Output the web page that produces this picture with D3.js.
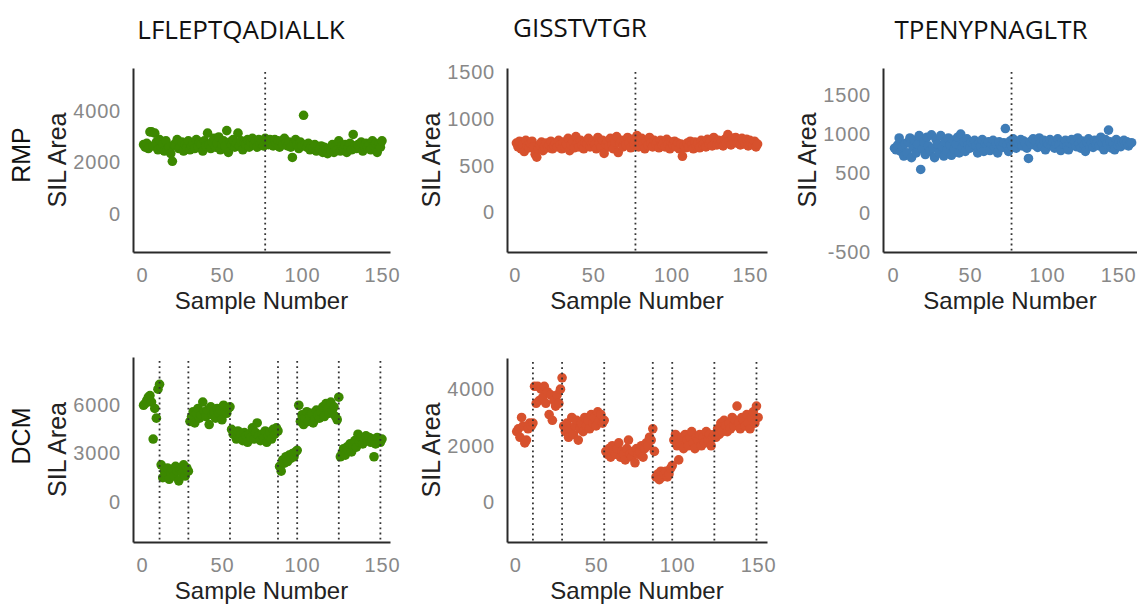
<!DOCTYPE html>
<html>
<head>
<meta charset="utf-8">
<script src="https://cdn.jsdelivr.net/npm/d3@7"></script>
<style>
  body { margin: 0; background: #fff; }
  svg { display: block; }
</style>
</head>
<body>
<svg id="chart" width="1137" height="604"></svg>
<script>
// column titles and row labels
const peptides = ["LFLEPTQADIALLK", "GISSTVTGR", "TPENYPNAGLTR"];
const methods = ["RMP", "DCM"];
const xTicks = [0, 50, 100, 150];

// batch boundaries (sample number)
const rmpBatchLines = [77];
const dcmBatchLines = [11, 29, 55, 85, 97, 123, 149];

// SIL area per sample, sample number = index + 1
const rmpLfleptqadiallk = [
  2700, 2600, 2750, 2550, 3200, 3200, 2650, 3150, 2800, 2500,
  2900, 2600, 2700, 2450, 2850, 2500, 2600, 2350, 2050, 2700,
  2650, 2900, 2550, 2600, 2800, 2450, 2700, 2600, 2850, 2500,
  2650, 2750, 2550, 2900, 2600, 2800, 2700, 2450, 2850, 2650,
  3150, 2700, 2550, 2800, 2950, 2600, 2750, 3000, 2500, 2700,
  2850, 2650, 3250, 2400, 2800, 2700, 2900, 2600, 2750, 3150,
  2650, 2850, 2500, 2800, 2700, 2900, 2600, 2800, 2950, 2700,
  2850, 2600, 2900, 2750, 2800, 2650, 2950, 2850, 2700, 2900,
  2800, 2650, 2900, 2750, 2850, 2600, 2800, 2700, 2950, 2750,
  2650, 2800, 2600, 2200, 2750, 2900, 2700, 2550, 2800, 2650,
  3850, 2700, 2600, 2750, 2500, 2650, 2550, 2700, 2450, 2600,
  2550, 2650, 2400, 2600, 2500, 2350, 2550, 2450, 2700, 2400,
  2600, 2500, 2850, 2450, 2650, 2550, 2700, 2400, 2600, 2750,
  2500, 3100, 2650, 2550, 2700, 2600, 2800, 2450, 2650, 2750,
  2600, 2700, 2500, 2850, 2650, 2750, 2400, 2700, 2600, 2850
];
const rmpGisstvtgr = [
  740, 700, 760, 680, 720, 650, 770, 710, 690, 740,
  760, 700, 620, 590, 680, 720, 750, 660, 700, 740,
  690, 720, 760, 680, 710, 740, 700, 770, 720, 680,
  750, 700, 730, 790, 660, 720, 760, 690, 810, 740,
  700, 770, 720, 680, 750, 730, 790, 700, 740, 760,
  720, 680, 800, 740, 700, 770, 630, 730, 760, 700,
  790, 720, 680, 750, 810, 640, 740, 770, 700, 760,
  720, 800, 740, 690, 780, 730, 760, 820, 700, 750,
  790, 730, 680, 760, 720, 800, 740, 700, 770, 730,
  750, 690, 770, 720, 740, 700, 780, 730, 680, 750,
  720, 760, 700, 740, 680, 730, 600, 710, 690, 740,
  700, 760, 720, 680, 750, 710, 740, 690, 770, 720,
  740, 700, 780, 730, 760, 710, 800, 740, 720, 770,
  730, 760, 710, 780, 740, 830, 760, 720, 790, 750,
  800, 740, 770, 720, 790, 760, 730, 780, 710, 770,
  740, 720, 760, 700, 730
];
const rmpTpenypnagltr = [
  820, 800, 860, 950, 780, 840, 720, 880, 760, 900,
  950, 700, 830, 920, 760, 870, 980, 550, 810, 900,
  740, 960, 850, 780, 990, 820, 700, 930, 870, 760,
  980, 840, 720, 900, 790, 950, 860, 730, 920, 810,
  870, 960, 760, 1000, 830, 900, 780, 940, 860, 820,
  900, 870, 920, 850, 760, 890, 840, 930, 780, 880,
  860, 900, 790, 870, 920, 840, 880, 760, 900, 850,
  830, 890, 1070, 860, 780, 910, 850, 940, 870, 820,
  900, 870, 930, 850, 910, 880, 820, 690, 900, 870,
  940, 860, 900, 830, 950, 880, 850, 920, 800, 890,
  870, 930, 850, 900, 820, 880, 940, 860, 790, 900,
  870, 920, 850, 800, 890, 930, 860, 900, 840, 950,
  880, 820, 910, 860, 780, 900, 940, 850, 890, 830,
  920, 870, 910, 850, 960, 880, 800, 930, 870, 1050,
  900, 820, 880, 800, 930, 860, 900, 840, 890, 920,
  870, 900, 850, 880, 890
];
const dcmLfleptqadiallk = [
  6000, 6100, 6300, 6500, 6600, 6200, 3900, 5800, 5200, 7000, 7300,
  2300, 1500, 1900, 1700, 2100, 1400, 1800, 2000, 1600, 2200, 1900, 1300, 2000, 1800, 2300, 1600, 2100, 1900,
  5000, 5300, 5600, 4900, 5500, 5800, 5200, 5400, 6200, 5600, 5300, 5700, 4800,
  5900, 5400, 5600, 5200, 5800, 5500, 5700, 5100, 6000, 5600, 5500, 5800, 5900,
  4500, 4200, 4300, 3900, 4400, 4000, 4200, 3800, 4300, 4100, 3700, 4200, 4000, 4600, 3900,
  4300, 4900, 4100, 3800, 4200, 4000, 4400, 3700, 4100, 4300, 3900, 4500, 4200, 4600, 4400,
  2200, 1900, 2600, 2400, 2800, 2500, 2900, 2700, 3000, 2800, 3100, 3200,
  6000, 5000, 5400, 4800, 5200, 5600, 5000, 5300, 5500, 4900, 5100, 5700, 5400,
  5200, 5600, 5900, 5300, 6100, 5800, 5500, 6200, 5700, 5900, 5300, 5100, 6500,
  2800, 3000, 3300, 2900, 3400, 3200, 3600, 3100, 3500, 3800, 3400, 4200, 3700,
  4000, 3600, 3900, 4100, 3800, 4000, 3700, 3900, 2800, 3600, 4000, 3800, 3700,
  3900
];
const dcmGisstvtgr = [
  2500, 2600, 2300, 3000, 2700, 2100, 2200, 2600, 2800, 2700, 2800,
  4100, 3500, 4100, 3600, 4000, 3700, 4100, 3500, 3900, 3100, 3800, 2900, 3600, 3400, 3800, 3500, 4000, 4400,
  2700, 2500, 2800, 2300, 2600, 3000, 2400, 2700, 2900, 2200, 2600, 2800, 2500,
  3000, 2700, 2900, 2600, 3100, 2800, 3000, 2700, 3200, 2900, 3100, 2800, 2900,
  1800, 1700, 1900, 1600, 2000, 1800, 1700, 1900, 2100, 1600, 1800, 1700, 1500, 1900, 2200,
  1700, 1600, 1800, 1400, 1900, 1700, 1800, 2000, 1600, 1900, 2100, 2000, 2300, 2200, 2600,
  1800, 900, 1000, 800, 1100, 900, 1000, 1100, 900, 1000, 1200, 1300,
  2200, 2400, 2000, 1500, 2100, 2300, 1900, 2400, 2200, 2000, 2300, 2500, 2100,
  1900, 2300, 2200, 2400, 2000, 2300, 2100, 2500, 2200, 2400, 2000, 2300, 2400,
  2300, 2600, 2400, 2800, 2500, 2900, 2700, 2500, 2800, 2600, 3000, 2700, 2900,
  3400, 2800, 2600, 3000, 2900, 2700, 3100, 2800, 2600, 3000, 3200, 2800, 3400,
  3000
];

const yTicksRmpLfl = [0, 2000, 4000];
const yTicksRmpGis = [0, 500, 1000, 1500];
const yTicksRmpTpe = [-500, 0, 500, 1000, 1500];
const yTicksDcmLfl = [0, 3000, 6000];
const yTicksDcmGis = [0, 2000, 4000];

const green = "#3c8800", red = "#d7512d", blue = "#3e7cb7";

const width = 1137;
const svg = d3.select("#chart");
const labelFont = "'Liberation Sans', Arial, sans-serif";
const plain = d => String(d); // hyphen minus, no thousands separator

// one entry per panel: layout and which arrays to use
const panels = [
  { values: rmpLfleptqadiallk, color: green, lines: rmpBatchLines, yTicks: yTicksRmpLfl,
    left: 133, right: 390, top: 68, bottom: 252, xDomain: [-5.6, 155], yDomain: [-1500, 5700] },
  { values: rmpGisstvtgr, color: red, lines: rmpBatchLines, yTicks: yTicksRmpGis,
    left: 507, right: 767, top: 68, bottom: 252, xDomain: [-5, 161], yDomain: [-420, 1540] },
  { values: rmpTpenypnagltr, color: blue, lines: rmpBatchLines, yTicks: yTicksRmpTpe,
    left: 883, right: 1137, top: 68, bottom: 252, xDomain: [-6.5, 158.5], yDomain: [-500, 1840] },
  { values: dcmLfleptqadiallk, color: green, lines: dcmBatchLines, yTicks: yTicksDcmLfl,
    left: 133, right: 390, top: 357, bottom: 542, xDomain: [-5.6, 155], yDomain: [-2500, 9000] },
  { values: dcmGisstvtgr, color: red, lines: dcmBatchLines, yTicks: yTicksDcmGis,
    left: 507, right: 767, top: 358, bottom: 542, xDomain: [-5, 155.5], yDomain: [-1400, 5100] }
];

function drawPanel(p) {
  const x = d3.scaleLinear().domain(p.xDomain).range([p.left, p.right]);
  const y = d3.scaleLinear().domain(p.yDomain).range([p.bottom, p.top]);
  const g = svg.append("g");

  g.append("g").selectAll("circle")
    .data(p.values)
    .join("circle")
    .attr("cx", (d, i) => x(i + 1))
    .attr("cy", d => y(d))
    .attr("r", 4.8)
    .attr("fill", p.color);

  // dotted batch separators sit on top of the points
  g.append("g").selectAll("line")
    .data(p.lines)
    .join("line")
    .attr("x1", d => x(d)).attr("x2", d => x(d))
    .attr("y1", p.top + 4).attr("y2", p.bottom)
    .attr("stroke", "#333")
    .attr("stroke-width", 1.8)
    .attr("stroke-dasharray", "1.8 3.4");

  const xAxis = g.append("g")
    .attr("transform", `translate(0,${p.bottom})`)
    .call(d3.axisBottom(x).tickValues(xTicks).tickFormat(plain).tickSize(0).tickPadding(16));
  const yAxis = g.append("g")
    .attr("transform", `translate(${p.left},0)`)
    .call(d3.axisLeft(y).tickValues(p.yTicks).tickFormat(plain).tickSize(0).tickPadding(12));

  [xAxis, yAxis].forEach(a => {
    a.select(".domain").attr("stroke", "#2a2a2a").attr("stroke-width", 2);
    a.selectAll("text")
      .attr("fill", "#888")
      .style("font-family", labelFont)
      .style("font-size", "20px")
      .style("letter-spacing", "0.8px");
  });

  // keep the last x label inside the page
  xAxis.selectAll(".tick text").each(function (d) {
    const box = this.getBBox();
    if (x(d) + box.width / 2 > width - 1) {
      d3.select(this).attr("text-anchor", "end").attr("x", width - 1 - x(d));
    }
  });

  g.append("text")
    .attr("x", (p.left + p.right) / 2)
    .attr("y", p.bottom + 57)
    .attr("text-anchor", "middle")
    .style("font-family", labelFont)
    .style("font-size", "24px")
    .attr("fill", "#222")
    .text("Sample Number");

  g.append("text")
    .attr("transform", `translate(${p.left - 67},${(p.top + p.bottom) / 2}) rotate(-90)`)
    .attr("text-anchor", "middle")
    .style("font-family", labelFont)
    .style("font-size", "25px")
    .attr("fill", "#222")
    .text("SIL Area");
}

panels.forEach(drawPanel);

// peptide titles
const titlePos = [[241, 39], [580, 37], [991, 39]];
svg.selectAll("text.title")
  .data(peptides)
  .join("text")
  .attr("class", "title")
  .attr("x", (d, i) => titlePos[i][0])
  .attr("y", (d, i) => titlePos[i][1])
  .attr("text-anchor", "middle")
  .style("font-family", "'Open Sans', sans-serif")
  .style("font-size", "26px")
  .attr("fill", "#111")
  .text(d => d);

// method row labels
const rowCenters = [155, 436];
svg.selectAll("text.method")
  .data(methods)
  .join("text")
  .attr("class", "method")
  .attr("transform", (d, i) => `translate(30,${rowCenters[i]}) rotate(-90)`)
  .attr("text-anchor", "middle")
  .style("font-family", labelFont)
  .style("font-size", "25px")
  .attr("fill", "#111")
  .text(d => d);
</script>
</body>
</html>
